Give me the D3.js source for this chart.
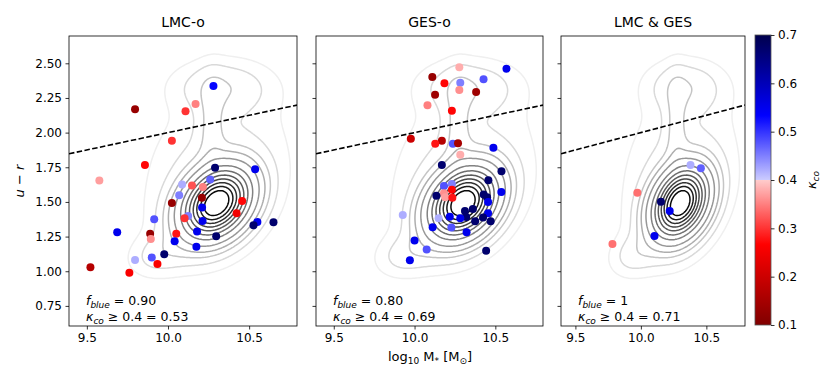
<!DOCTYPE html>
<html>
<head>
<meta charset="utf-8">
<script src="https://cdn.jsdelivr.net/npm/d3@7"></script>
<style>
body{margin:0;background:#fff}
svg{font-family:"DejaVu Sans",sans-serif}
</style>
</head>
<body>
<svg id="chart" width="831" height="385"></svg>
<script>
// panel titles
var panelTitles=["LMC-o","GES-o","LMC & GES"];
var fBlueText=["0.90","0.80","1"];
var kappaFracText=["0.53","0.69","0.71"];

// LMC-o galaxies: stellar mass, u-r colour, kappa_co
var lmcMass=[10.28,9.797,10.108,10.17,10.024,9.858,9.577,10.29,10.537,10.087,10.26,10.148,10.215,10.069,10.124,10.209,10.024,10.21,10.457,10.423,10.102,10.213,10.551,10.527,10.65,9.915,9.687,9.89,9.894,10.051,10.179,10.297,10.041,10.175,9.977,9.9,9.797,9.935,9.762,9.522];
var lmcColour=[2.336,2.168,2.154,2.207,1.942,1.767,1.654,1.747,1.735,1.625,1.661,1.618,1.608,1.548,1.399,1.531,1.493,1.459,1.507,1.418,1.382,1.363,1.356,1.332,1.353,1.375,1.281,1.271,1.233,1.271,1.286,1.253,1.217,1.176,1.123,1.099,1.082,1.053,0.99,1.029];
var lmcKappa=[0.53,0.13,0.3,0.35,0.3,0.27,0.37,0.67,0.55,0.42,0.47,0.32,0.35,0.45,0.45,0.13,0.13,0.55,0.27,0.25,0.3,0.55,0.55,0.67,0.67,0.48,0.55,0.13,0.36,0.28,0.55,0.67,0.55,0.55,0.67,0.48,0.42,0.26,0.26,0.17];

// GES-o galaxies
var gesMass=[10.569,10.277,10.11,10.185,10.283,10.427,10.277,10.127,10.381,10.08,10.231,9.977,10.169,10.128,10.237,10.269,10.488,10.283,10.169,10.538,10.457,10.537,10.182,10.231,10.231,10.182,10.135,10.19,10.234,10.428,10.449,10.455,10.361,10.312,10.149,10.218,10.32,10.283,10.455,10.424,10.375,10.471,10.112,10.228,10.322,9.927,10.0,10.075,9.971,10.443];
var gesColour=[2.461,2.471,2.401,2.356,2.36,2.385,2.307,2.274,2.293,2.197,2.158,1.956,1.942,1.92,1.92,1.923,1.891,1.841,1.767,1.721,1.656,1.572,1.615,1.63,1.587,1.563,1.545,1.534,1.531,1.553,1.534,1.5,1.449,1.435,1.382,1.394,1.391,1.382,1.418,1.387,1.361,1.361,1.318,1.315,1.282,1.406,1.221,1.156,1.08,1.147];
var gesKappa=[0.55,0.38,0.13,0.27,0.45,0.48,0.36,0.14,0.14,0.35,0.27,0.2,0.17,0.28,0.48,0.15,0.55,0.38,0.67,0.67,0.67,0.55,0.48,0.45,0.27,0.36,0.67,0.37,0.28,0.67,0.67,0.55,0.67,0.67,0.42,0.55,0.67,0.55,0.55,0.67,0.67,0.67,0.55,0.48,0.55,0.42,0.55,0.48,0.55,0.67];

// LMC & GES galaxies
var bothMass=[10.379,10.458,9.973,10.153,10.22,10.104,9.783];
var bothColour=[1.767,1.743,1.567,1.502,1.435,1.255,1.197];
var bothKappa=[0.42,0.47,0.34,0.67,0.55,0.55,0.34];

// parent sample density, described as a few gaussian blobs (centre, spread, peak height)
var kdeMass=[10.30,10.30,10.33,10.27,9.95];
var kdeColour=[1.49,1.70,2.33,2.05,1.12];
var kdeSigMass=[0.13,0.28,0.19,0.055,0.12];
var kdeSigColour=[0.155,0.40,0.12,0.22,0.10];
var kdeRho=[0.3,0.2,0,0,0.2];
var kdePeak=[1.0,0.04,0.045,0.045,0.035];
var contourLevels=[0.012,0.028,0.055,0.09,0.15,0.25,0.35,0.45,0.55,0.65,0.75,0.85];

var xTicks=[9.5,10.0,10.5];
var yTicks=[0.75,1.00,1.25,1.50,1.75,2.00,2.25,2.50];
var cbTicks=[0.1,0.2,0.3,0.4,0.5,0.6,0.7];

var svg=d3.select("#chart");
var plotTop=36, plotBottom=326;
var panels=[
  {left:69,right:297,x:lmcMass,y:lmcColour,k:lmcKappa},
  {left:316,right:543,x:gesMass,y:gesColour,k:gesKappa},
  {left:561,right:745,x:bothMass,y:bothColour,k:bothKappa}
];

// seismic_r with a small jump at 0.4
var seismic=d3.scaleLinear()
  .domain([0,0.25,0.5,0.75,1])
  .range(["#800000","#ff0000","#ffffff","#0000ff","#00004d"]);
function kappaColour(k){
  var t=(k-0.1)/0.6;
  t=Math.max(0,Math.min(1,t));
  var s=t<0.5 ? t*0.9 : 0.55+(t-0.5)*0.9;
  return seismic(s);
}

// density grid
var gx0=9.3, gdx=0.01, gnx=161;
var gy0=0.5, gdy=0.01, gny=231;
var grid=new Array(gnx*gny);
for(var j=0;j<gny;j++){
  for(var i=0;i<gnx;i++){
    var xv=gx0+i*gdx, yv=gy0+j*gdy, d=0;
    for(var c=0;c<kdeMass.length;c++){
      var u=(xv-kdeMass[c])/kdeSigMass[c], v=(yv-kdeColour[c])/kdeSigColour[c], r=kdeRho[c];
      var q=(u*u-2*r*u*v+v*v)/(1-r*r);
      d+=kdePeak[c]*Math.exp(-q/2);
    }
    grid[i+j*gnx]=d;
  }
}
var gmax=d3.max(grid);
var contours=d3.contours().size([gnx,gny]).thresholds(contourLevels.map(function(f){return f*gmax;}))(grid);

var defs=svg.append("defs");

panels.forEach(function(p,pi){
  var xs=d3.scaleLinear().domain([9.39,10.795]).range([p.left,p.right]);
  var ys=d3.scaleLinear().domain([0.605,2.697]).range([plotBottom,plotTop]);
  var g=svg.append("g");

  defs.append("clipPath").attr("id","clip"+pi)
    .append("rect").attr("x",p.left).attr("y",plotTop).attr("width",p.right-p.left).attr("height",plotBottom-plotTop);

  var path=d3.geoPath(d3.geoTransform({point:function(x,y){
    this.stream.point(xs(gx0+(x-0.5)*gdx), ys(gy0+(y-0.5)*gdy));
  }}));

  var plot=g.append("g").attr("clip-path","url(#clip"+pi+")");
  plot.selectAll("path.kde").data(contours).enter().append("path")
    .attr("class","kde")
    .attr("d",path)
    .attr("fill","none")
    .attr("stroke-width",1.5)
    .attr("stroke",function(d,i){return d3.interpolateGreys(0.12+0.85*Math.pow(i/(contours.length-1),0.8));});

  // red / blue divider
  var lineX=[9.39,10.795];
  plot.append("path")
    .attr("d",d3.line().x(function(d){return xs(d);}).y(function(d){return ys(0.25*d-0.5);})(lineX))
    .attr("fill","none").attr("stroke","#000").attr("stroke-width",1.6)
    .attr("stroke-dasharray","5.5,2.4");

  plot.selectAll("circle").data(p.x).enter().append("circle")
    .attr("cx",function(d){return xs(d);})
    .attr("cy",function(d,i){return ys(p.y[i]);})
    .attr("r",4)
    .attr("fill",function(d,i){return kappaColour(p.k[i]);});

  // axes
  var xa=g.append("g").attr("transform","translate(0,"+plotBottom+")")
    .call(d3.axisBottom(xs).tickValues(xTicks).tickFormat(d3.format(".1f")).tickSize(3.5).tickPadding(3.5));
  var ya=g.append("g").attr("transform","translate("+p.left+",0)")
    .call(d3.axisLeft(ys).tickValues(yTicks).tickFormat(pi==0?d3.format(".2f"):"").tickSize(3.5).tickPadding(3.5));
  [xa,ya].forEach(function(a){
    a.select(".domain").remove();
    a.selectAll("line").attr("stroke","#000").attr("stroke-width",0.8);
    a.selectAll("text").attr("font-size",12).attr("fill","#000").attr("font-family","DejaVu Sans");
  });

  g.append("rect").attr("x",p.left).attr("y",plotTop).attr("width",p.right-p.left).attr("height",plotBottom-plotTop)
    .attr("fill","none").attr("stroke","#000").attr("stroke-width",0.8);

  g.append("text").attr("x",(p.left+p.right)/2).attr("y",27).attr("text-anchor","middle")
    .attr("font-size",14).text(panelTitles[pi]);

  var t1=g.append("text").attr("x",p.left+17).attr("y",305).attr("font-size",12.5);
  t1.append("tspan").attr("font-style","italic").text("f");
  t1.append("tspan").attr("font-style","italic").attr("font-size",9).attr("dy",3).text("blue");
  t1.append("tspan").attr("dy",-3).text(" = "+fBlueText[pi]);
  var t2=g.append("text").attr("x",p.left+17).attr("y",321).attr("font-size",12.5);
  t2.append("tspan").attr("font-style","italic").text("κ");
  t2.append("tspan").attr("font-style","italic").attr("font-size",9).attr("dy",3).text("co");
  t2.append("tspan").attr("dy",-3).text(" ≥ 0.4 = "+kappaFracText[pi]);
});

// axis labels
var yl=svg.append("text").attr("transform","translate(24,181) rotate(-90)").attr("text-anchor","middle").attr("font-size",13);
yl.append("tspan").attr("font-style","italic").text("u");
yl.append("tspan").text(" − ");
yl.append("tspan").attr("font-style","italic").text("r");

var xl=svg.append("text").attr("x",430).attr("y",361).attr("text-anchor","middle").attr("font-size",13);
xl.append("tspan").text("log");
xl.append("tspan").attr("font-size",9).attr("dy",3).text("10");
xl.append("tspan").attr("dy",-3).text(" M");
xl.append("tspan").attr("font-size",9).attr("dy",3).text("*");
xl.append("tspan").attr("dy",-3).text("  [M");
xl.append("tspan").attr("font-size",9).attr("dy",3).text("⊙");
xl.append("tspan").attr("dy",-3).text("]");

// colorbar
var cbLeft=755, cbRight=771, cbTop=35, cbBottom=325;
var cs=d3.scaleLinear().domain([0.1,0.7]).range([cbBottom,cbTop]);
var grad=defs.append("linearGradient").attr("id","cbgrad").attr("x1",0).attr("y1",1).attr("x2",0).attr("y2",0);
d3.range(0,201).forEach(function(i){
  var k=0.1+0.6*i/200;
  grad.append("stop").attr("offset",(i/200*100)+"%").attr("stop-color",kappaColour(i==100?0.3999:k));
  if(i==100) grad.append("stop").attr("offset","50%").attr("stop-color",kappaColour(0.4001));
});
svg.append("rect").attr("x",cbLeft).attr("y",cbTop).attr("width",cbRight-cbLeft).attr("height",cbBottom-cbTop)
  .attr("fill","url(#cbgrad)").attr("stroke","#555").attr("stroke-width",0.8);
var ca=svg.append("g").attr("transform","translate("+cbRight+",0)")
  .call(d3.axisRight(cs).tickValues(cbTicks).tickFormat(d3.format(".1f")).tickSize(3.5).tickPadding(3.5));
ca.select(".domain").remove();
ca.selectAll("line").attr("stroke","#000").attr("stroke-width",0.8);
ca.selectAll("text").attr("font-size",12).attr("fill","#000").attr("font-family","DejaVu Sans");

var cl=svg.append("text").attr("transform","translate(816,180) rotate(-90)").attr("text-anchor","middle").attr("font-size",13);
cl.append("tspan").attr("font-style","italic").text("κ");
cl.append("tspan").attr("font-style","italic").attr("font-size",9).attr("dy",3).text("co");
</script>
</body>
</html>
